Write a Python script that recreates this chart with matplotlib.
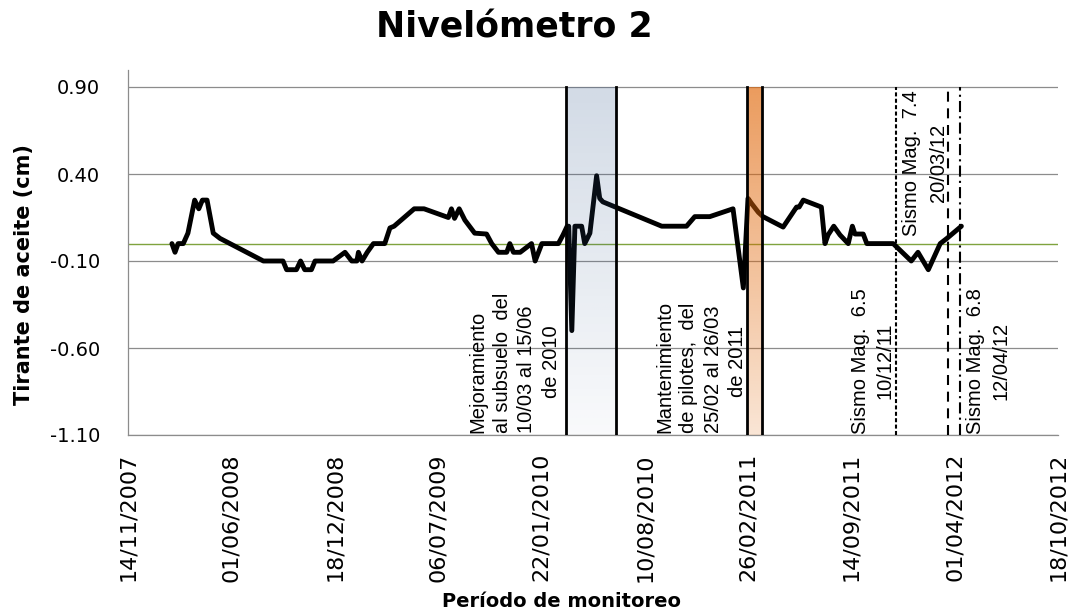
import matplotlib
matplotlib.use('Agg')
import matplotlib.pyplot as plt
import matplotlib.dates as mdates
import matplotlib.transforms as mtransforms
import numpy as np
import pandas as pd

plt.rcParams['axes.unicode_minus'] = False
plt.rcParams['lines.scale_dashes'] = False

# ---------------- data ----------------
fecha = ['07/02/2008', '13/02/2008', '19/02/2008', '29/02/2008', '09/03/2008',
         '22/03/2008', '30/03/2008', '06/04/2008', '15/04/2008', '27/04/2008',
         '10/05/2008', '02/08/2008', '09/09/2008', '16/09/2008', '05/10/2008',
         '13/10/2008', '21/10/2008', '03/11/2008', '10/11/2008', '15/12/2008',
         '07/01/2009', '20/01/2009', '30/01/2009', '02/02/2009', '09/02/2009',
         '19/02/2009', '03/03/2009', '25/03/2009', '04/04/2009', '12/04/2009',
         '21/05/2009', '09/06/2009', '26/07/2009', '01/08/2009', '07/08/2009',
         '16/08/2009', '27/08/2009', '15/09/2009', '08/10/2009', '18/10/2009',
         '31/10/2009', '16/11/2009', '22/11/2009', '29/11/2009', '12/12/2009',
         '03/01/2010', '10/01/2010', '23/01/2010', '24/02/2010', '05/03/2010',
         '13/03/2010', '16/03/2010', '22/03/2010', '28/03/2010', '10/04/2010',
         '16/04/2010', '26/04/2010', '09/05/2010', '15/05/2010', '21/05/2010',
         '12/09/2010', '30/10/2010', '15/11/2010', '14/12/2010', '28/01/2011',
         '17/02/2011', '26/02/2011', '05/03/2011', '18/03/2011', '27/03/2011',
         '05/05/2011', '31/05/2011', '05/06/2011', '13/06/2011', '18/07/2011',
         '25/07/2011', '31/07/2011', '11/08/2011', '23/08/2011', '08/09/2011',
         '16/09/2011', '21/09/2011', '07/10/2011', '14/10/2011', '04/12/2011',
         '08/01/2012', '21/01/2012', '10/02/2012', '04/03/2012', '17/03/2012',
         '14/04/2012']
tirante = [0.00, -0.05, 0.00, 0.00, 0.06,
           0.25, 0.20, 0.25, 0.25, 0.06,
           0.03, -0.10, -0.10, -0.15, -0.15,
           -0.10, -0.15, -0.15, -0.10, -0.10,
           -0.05, -0.10, -0.10, -0.05, -0.10,
           -0.05, 0.00, 0.00, 0.09, 0.10,
           0.20, 0.20, 0.15, 0.20, 0.145,
           0.20, 0.135, 0.06, 0.055, 0.00,
           -0.05, -0.05, 0.00, -0.05, -0.05,
           0.00, -0.10, 0.00, 0.00, 0.05,
           0.10, 0.10, -0.50, 0.10, 0.10,
           0.00, 0.06, 0.39, 0.26, 0.24,
           0.10, 0.10, 0.155, 0.155, 0.20,
           -0.255, 0.26, 0.23, 0.18, 0.155,
           0.095, 0.21, 0.21, 0.25, 0.21,
           0.00, 0.05, 0.10, 0.05, 0.00,
           0.10, 0.055, 0.055, 0.00, 0.00,
           -0.10, -0.05, -0.15, 0.00, 0.03,
           0.10]

xtick_labels = ['14/11/2007', '01/06/2008', '18/12/2008', '06/07/2009', '22/01/2010',
                '10/08/2010', '26/02/2011', '14/09/2011', '01/04/2012', '18/10/2012']
ytick_values = [-1.10, -0.60, -0.10, 0.40, 0.90]
y_max = 1.0

periodo_mejoramiento = ['10/03/2010', '15/06/2010']
periodo_mantenimiento = ['25/02/2011', '26/03/2011']
sismo_fechas = ['10/12/2011', '20/03/2012', '12/04/2012']

texto_mejoramiento = ['Mejoramiento', 'al subsuelo  del', '10/03 al 15/06', 'de 2010']
texto_mantenimiento = ['Mantenimiento', 'de pilotes,  del', '25/02 al 26/03', 'de 2011']
texto_sismos = [['Sismo Mag.  6.5', '10/12/11'],
                ['Sismo Mag.  7.4', '20/03/12'],
                ['Sismo Mag.  6.8', '12/04/12']]


def d(s):
    return mdates.date2num(pd.to_datetime(s, format='%d/%m/%Y'))


x = [d(s) for s in fecha]

# ---------------- figure ----------------
W, H = 1070, 614
fig = plt.figure(figsize=(W / 100, H / 100), dpi=100)
ax_l, ax_r, ax_b, ax_t = 128, 1058, 435, 69.6
ax = fig.add_axes([ax_l / W, 1 - ax_b / H, (ax_r - ax_l) / W, (ax_b - ax_t) / H])

ymin, ytop = ytick_values[0], ytick_values[-1]

ax.plot(x, tirante, color='black', lw=3.5, solid_joinstyle='round',
        solid_capstyle='round', zorder=3)

# gridlines & zero line
for yv in ytick_values:
    ax.axhline(yv, color='#8c8c8c', lw=0.9, zorder=1)
ax.axhline(0, color='#7fa33e', lw=1.0, zorder=2)


def banda(periodo, rgb, a_top, a_bot):
    x0, x1 = d(periodo[0]), d(periodo[1])
    n = 256
    img = np.zeros((n, 1, 4))
    img[..., 0] = rgb[0]
    img[..., 1] = rgb[1]
    img[..., 2] = rgb[2]
    img[..., 3] = np.linspace(a_top, a_bot, n)[:, None]
    ax.imshow(img, extent=[x0, x1, ymin, ytop], aspect='auto', origin='upper',
              interpolation='bilinear', zorder=4)
    ax.plot([x0, x0], [ymin, ytop], color='black', lw=2, zorder=5)
    ax.plot([x1, x1], [ymin, ytop], color='black', lw=2, zorder=5)


banda(periodo_mejoramiento, (0.20, 0.35, 0.55), 0.22, 0.03)
banda(periodo_mantenimiento, (0.88, 0.40, 0.03), 0.65, 0.17)

estilos = [(0, (2.9, 1.7)), (0, (7.2, 4.8)), (0, (8.0, 3.0, 1.5, 3.0))]
for sf, ls in zip(sismo_fechas, estilos):
    xs = d(sf)
    ax.plot([xs, xs], [ymin, ytop], color='black', lw=1.5, linestyle=ls, zorder=5)

ax.set_xlim(d(xtick_labels[0]), d(xtick_labels[-1]))
ax.set_ylim(ymin, y_max)

# ---------------- annotations ----------------
fs_ann = 14.5
fam_ann = 'Liberation Sans'


def linea(xd, dx, yv, txt, ha):
    tr = mtransforms.offset_copy(ax.transData, fig=fig, x=dx, y=0, units='dots')
    ax.text(xd, yv, txt, transform=tr, rotation=90, rotation_mode='anchor',
            ha=ha, va='center', fontsize=fs_ann, family=fam_ann, zorder=6)


def bloque_justificado(xd, lineas, dx_last, sp):
    n = len(lineas)
    for i, t in enumerate(lineas):
        dx = dx_last - (n - 1 - i) * sp
        if i < n - 1:
            linea(xd, dx, ymin + 0.012, t, 'left')
        else:
            linea(xd, dx, -0.68, t, 'center')


bloque_justificado(d(periodo_mejoramiento[0]), texto_mejoramiento, -14.5, 24.5)
bloque_justificado(d(periodo_mantenimiento[0]), texto_mantenimiento, -9.5, 24.5)

sismo_pos = [(-36, -11, -0.675), (-37, -10, 0.463), (15.5, 40.5, -0.675)]
for sf, txt, (dx1, dx2, yc) in zip(sismo_fechas, texto_sismos, sismo_pos):
    linea(d(sf), dx1, yc, txt[0], 'center')
    linea(d(sf), dx2, yc, txt[1], 'center')

# ---------------- axes styling ----------------
for s in ['top', 'right']:
    ax.spines[s].set_visible(False)
for s in ['left', 'bottom']:
    ax.spines[s].set_color('#8c8c8c')
    ax.spines[s].set_linewidth(0.9)

ax.set_xticks([d(t) for t in xtick_labels])
ax.set_xticklabels(xtick_labels, rotation=90, fontsize=16)
ax.tick_params(axis='x', length=0, pad=13)
ax.set_yticks(ytick_values)
ax.set_yticklabels(['%.2f' % v for v in ytick_values], fontsize=14)
ax.tick_params(axis='y', length=0, pad=20)

fig.text(514 / W, 1 - 38 / H, 'Nivelómetro 2', ha='center', va='baseline',
         fontsize=25, fontweight='bold')
fig.text(562 / W, 1 - 607 / H, 'Período de monitoreo', ha='center', va='baseline',
         fontsize=14, fontweight='bold')
fig.text(24 / W, 1 - 275 / H, 'Tirante de aceite (cm)', ha='center', va='center',
         rotation=90, fontsize=15, fontweight='bold')

fig.savefig('out.png', dpi=100)
